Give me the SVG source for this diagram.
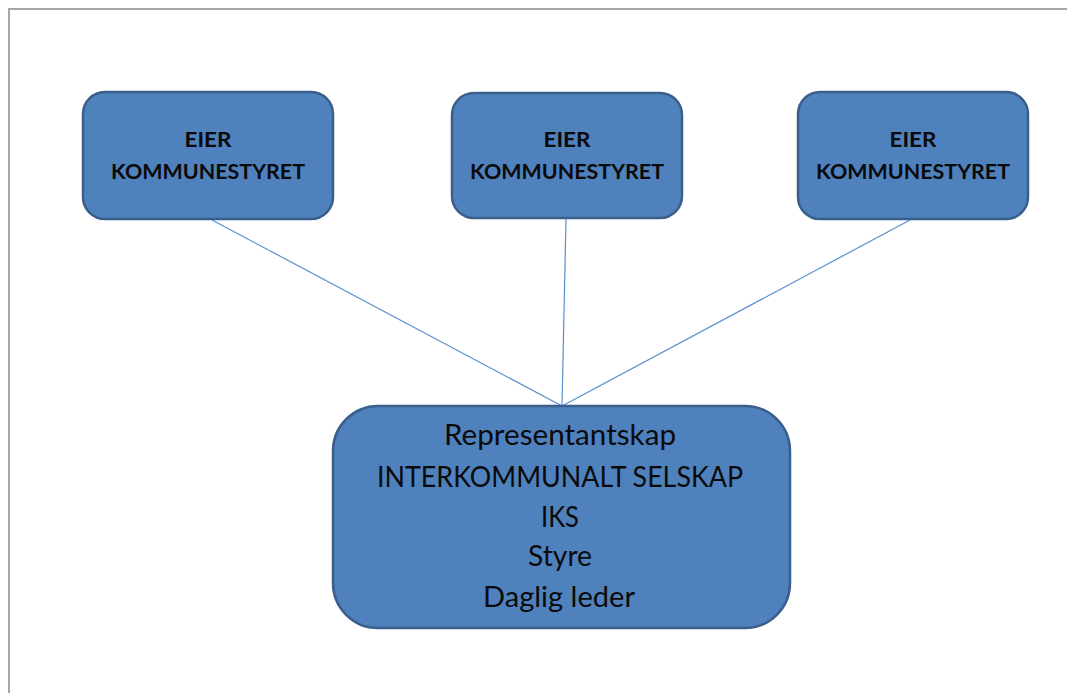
<svg xmlns="http://www.w3.org/2000/svg" width="1067" height="693" viewBox="0 0 1067 693">
  <style>
    .box { fill: #4f81bd; stroke: #3a5f8c; stroke-width: 2.5; }
    .owner { font-family: Lato, "Open Sans", "Liberation Sans", sans-serif; font-weight: bold; font-size: 20px; fill: #0a0a0a; text-anchor: middle; }
    .main { font-family: Lato, "Open Sans", "Liberation Sans", sans-serif; font-size: 29px; fill: #0a0a0a; text-anchor: middle; }
    .link { stroke: #5b8dd0; stroke-width: 1.2; fill: none; }
  </style>
  <rect width="1067" height="693" fill="#ffffff"/>
  <!-- page frame -->
  <rect x="9" y="9" width="1070" height="700" fill="none" stroke="#a6a6a6" stroke-width="2"/>

  <g id="connectors">
    <line class="link" x1="212" y1="220" x2="562" y2="406"/>
    <line class="link" x1="566" y1="219" x2="562" y2="406"/>
    <line class="link" x1="910" y1="220" x2="562" y2="406"/>
  </g>

  <g id="owner-1">
    <rect class="box" x="83" y="92" width="250" height="127" rx="22"/>
    <text class="owner" x="208" y="147" textLength="47" lengthAdjust="spacingAndGlyphs">EIER</text>
    <text class="owner" x="208" y="179" textLength="194" lengthAdjust="spacingAndGlyphs">KOMMUNESTYRET</text>
  </g>
  <g id="owner-2">
    <rect class="box" x="452" y="93" width="230" height="125" rx="22"/>
    <text class="owner" x="567" y="147" textLength="47" lengthAdjust="spacingAndGlyphs">EIER</text>
    <text class="owner" x="567" y="179" textLength="194" lengthAdjust="spacingAndGlyphs">KOMMUNESTYRET</text>
  </g>
  <g id="owner-3">
    <rect class="box" x="798" y="92" width="230" height="127" rx="22"/>
    <text class="owner" x="913" y="147" textLength="47" lengthAdjust="spacingAndGlyphs">EIER</text>
    <text class="owner" x="913" y="179" textLength="194" lengthAdjust="spacingAndGlyphs">KOMMUNESTYRET</text>
  </g>

  <g id="iks">
    <rect class="box" x="333" y="406" width="457" height="222" rx="45"/>
    <text class="main" x="560" y="445" textLength="232" lengthAdjust="spacingAndGlyphs">Representantskap</text>
    <text class="main" x="560" y="487" textLength="366" lengthAdjust="spacingAndGlyphs">INTERKOMMUNALT SELSKAP</text>
    <text class="main" x="560" y="527" textLength="38" lengthAdjust="spacingAndGlyphs">IKS</text>
    <text class="main" x="560" y="566" textLength="64" lengthAdjust="spacingAndGlyphs">Styre</text>
    <text class="main" x="559" y="607" textLength="152" lengthAdjust="spacingAndGlyphs">Daglig leder</text>
  </g>
</svg>
